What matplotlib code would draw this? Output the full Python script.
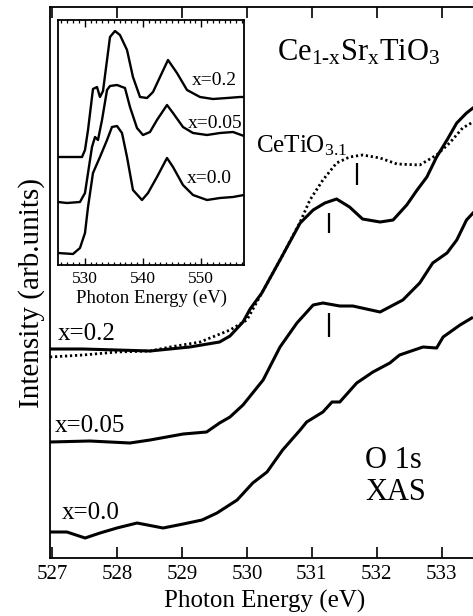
import matplotlib
matplotlib.use("Agg")
import matplotlib.pyplot as plt
from matplotlib.ticker import MultipleLocator

plt.rcParams['font.family'] = ['Liberation Serif', 'DejaVu Serif']
plt.rcParams['mathtext.fontset'] = 'custom'
plt.rcParams['mathtext.rm'] = 'Liberation Serif'
plt.rcParams['mathtext.it'] = 'Liberation Serif'
plt.rcParams['mathtext.bf'] = 'Liberation Serif'

# ---------------- main panel data (O 1s XAS, arb. units) ----------------
e_x02 = [526.97, 527.48, 528.00, 528.51, 529.12, 529.58, 529.74, 529.94, 530.05, 530.23,
         530.51, 530.82, 531.02, 531.20, 531.38, 531.58, 531.78, 532.05, 532.25, 532.46,
         532.62, 532.77, 532.92, 533.08, 533.23, 533.38, 533.48]
i_x02 = [209, 209, 208, 207, 211, 216, 222, 236, 249, 265,
         298, 335, 348, 355, 359, 351, 339, 336, 338, 353,
         368, 381, 401, 418, 435, 445, 450]

e_ceti = [526.97, 527.48, 528.00, 528.51, 528.82, 529.28, 529.74, 530.00, 530.23, 530.51,
          530.82, 530.97, 531.17, 531.38, 531.58, 531.78, 532.05, 532.31, 532.66, 532.92,
          533.12, 533.32, 533.48]
i_ceti = [201, 203, 206, 207, 211, 216, 228, 238, 265, 298,
          336, 358, 378, 395, 401, 403, 400, 394, 393, 403,
          415, 430, 436]

e_x005 = [526.97, 527.58, 528.20, 528.51, 529.02, 529.38, 529.58, 529.74, 529.94, 530.25,
          530.51, 530.77, 531.02, 531.17, 531.43, 531.63, 532.05, 532.40, 532.66, 532.86,
          533.08, 533.23, 533.38, 533.48]
i_x005 = [116, 117, 115, 118, 124, 126, 135, 141, 153, 178,
          211, 235, 253, 255, 252, 252, 246, 258, 275, 295,
          305, 318, 338, 345]

e_x00 = [526.97, 527.23, 527.51, 527.74, 528.00, 528.31, 528.71, 529.02, 529.31, 529.54,
         529.85, 530.09, 530.31, 530.55, 530.82, 530.92, 531.17, 531.31, 531.43, 531.69,
         531.94, 532.20, 532.35, 532.71, 532.92, 533.02, 533.28, 533.46]
i_x00 = [26, 26, 20, 25, 30, 35, 30, 34, 38, 45,
         58, 75, 86, 108, 128, 136, 146, 156, 156, 175,
         186, 195, 203, 211, 210, 221, 233, 240]

# peak markers: energy, lower, upper
mark_e = [531.69, 531.26, 531.26]
mark_lo = [373, 325, 221]
mark_hi = [395, 345, 245]

main_ticks = [527, 528, 529, 530, 531, 532, 533]

# ---------------- inset data (wide range O 1s XAS) ----------------
ie_x02 = [525.42, 529.54, 530.05, 530.57, 531.42, 532.11, 532.62, 533.14, 533.83, 534.34,
          535.20, 536.05, 537.26, 538.28, 539.49, 540.69, 541.72, 542.92, 544.29, 545.83,
          547.55, 549.78, 552.01, 554.41, 556.64, 557.33]
ii_x02 = [108, 108, 115, 135, 176, 178, 168, 174, 205, 228,
          234, 230, 215, 188, 168, 167, 173, 188, 205, 192,
          175, 168, 166, 167, 168, 168]

ie_x005 = [525.42, 526.96, 529.19, 530.05, 530.57, 531.25, 531.77, 532.28, 532.97, 533.83,
           534.34, 535.54, 536.91, 537.77, 538.97, 540.00, 541.20, 542.40, 544.12, 545.15,
           546.86, 548.58, 550.98, 553.21, 555.44, 557.33]
ii_x005 = [63, 62, 63, 72, 92, 118, 128, 125, 145, 175,
           179, 180, 177, 158, 137, 130, 133, 145, 160, 152,
           138, 132, 130, 132, 133, 129]

ie_x00 = [525.42, 527.99, 529.19, 530.05, 530.57, 531.42, 532.62, 533.83, 534.68, 535.54,
          536.40, 537.26, 538.28, 539.83, 540.86, 542.40, 544.12, 545.15, 546.86, 548.58,
          550.98, 553.21, 555.44, 557.33]
ii_x00 = [12, 11, 17, 32, 58, 92, 108, 125, 138, 139,
          132, 108, 75, 65, 72, 88, 107, 98, 80, 70,
          65, 67, 68, 70]

inset_ticks = [530, 540, 550]

W, H = 473, 616
fig = plt.figure(figsize=(W / 100, H / 100), dpi=100)

ax = fig.add_axes([50 / W, 1 - 558 / H, (W - 50) / W, (558 - 7) / H])
ax.plot(e_x02, i_x02, color='black', lw=2.2, solid_joinstyle='round')
ax.plot(e_ceti, i_ceti, color='black', lw=2.0, linestyle=(0, (0.8, 1.0)))
ax.plot(e_x005, i_x005, color='black', lw=2.2, solid_joinstyle='round')
ax.plot(e_x00, i_x00, color='black', lw=2.2, solid_joinstyle='round')
ax.vlines(mark_e, mark_lo, mark_hi, color='black', lw=1.6)

ax.set_xlim(526.97, 533.48)
ax.set_ylim(0, 551)
ax.set_xticks(main_ticks)
ax.set_xticklabels([str(t) for t in main_ticks], fontsize=15)
ax.set_yticks([])
ax.tick_params(axis='x', direction='in', length=8, width=1.2, top=True, pad=5)
for s in ['left', 'bottom', 'top']:
    ax.spines[s].set_linewidth(1.3)
ax.spines['right'].set_visible(False)

ax.text(530.46, 498, r'Ce$_{\mathregular{1\text{-}x}}$Sr$_{\mathregular{x}}$TiO$_{\mathregular{3}}$',
        fontsize=22, ha='left', va='baseline')
ax.text(530.14, 406, r'CeTiO$_{\mathregular{3.1}}$', fontsize=18, ha='left', va='baseline')
ax.text(527.09, 218, 'x=0.2', fontsize=18, ha='left', va='baseline')
ax.text(527.05, 126, 'x=0.05', fontsize=18, ha='left', va='baseline')
ax.text(527.15, 39, 'x=0.0', fontsize=18, ha='left', va='baseline')
ax.text(531.82, 90, 'O 1s', fontsize=22, ha='left', va='baseline')
ax.text(531.82, 58, 'XAS', fontsize=22, ha='left', va='baseline')

fig.text(264.5 / W, 1 - 608 / H, 'Photon Energy (eV)', fontsize=18, ha='center', va='baseline')
fig.text(32 / W, 1 - 293 / H, 'Intensity (arb.units)', fontsize=21, ha='center', va='center',
         rotation=90)

# inset
axi = fig.add_axes([58 / W, 1 - 265 / H, (244 - 58) / W, (265 - 20) / H])
axi.plot(ie_x02, ii_x02, color='black', lw=1.7)
axi.plot(ie_x005, ii_x005, color='black', lw=1.7)
axi.plot(ie_x00, ii_x00, color='black', lw=1.7)
axi.set_xlim(525.42, 557.33)
axi.set_ylim(0, 245)
axi.set_xticks(inset_ticks)
axi.set_xticklabels([str(t) for t in inset_ticks], fontsize=12.5)
axi.xaxis.set_minor_locator(MultipleLocator(1))
axi.set_yticks([])
axi.tick_params(axis='x', which='major', direction='in', length=5, width=1.0, top=True, pad=4)
axi.tick_params(axis='x', which='minor', direction='in', length=2.5, width=0.9, top=True)
for s in axi.spines.values():
    s.set_linewidth(1.3)
axi.set_xlabel('Photon Energy (eV)', fontsize=13.5, labelpad=2)
axi.text(548.4, 180, 'x=0.2', fontsize=14, ha='left', va='baseline')
axi.text(547.7, 137, 'x=0.05', fontsize=14, ha='left', va='baseline')
axi.text(547.55, 82, 'x=0.0', fontsize=14, ha='left', va='baseline')

fig.savefig('out.png', dpi=100)
